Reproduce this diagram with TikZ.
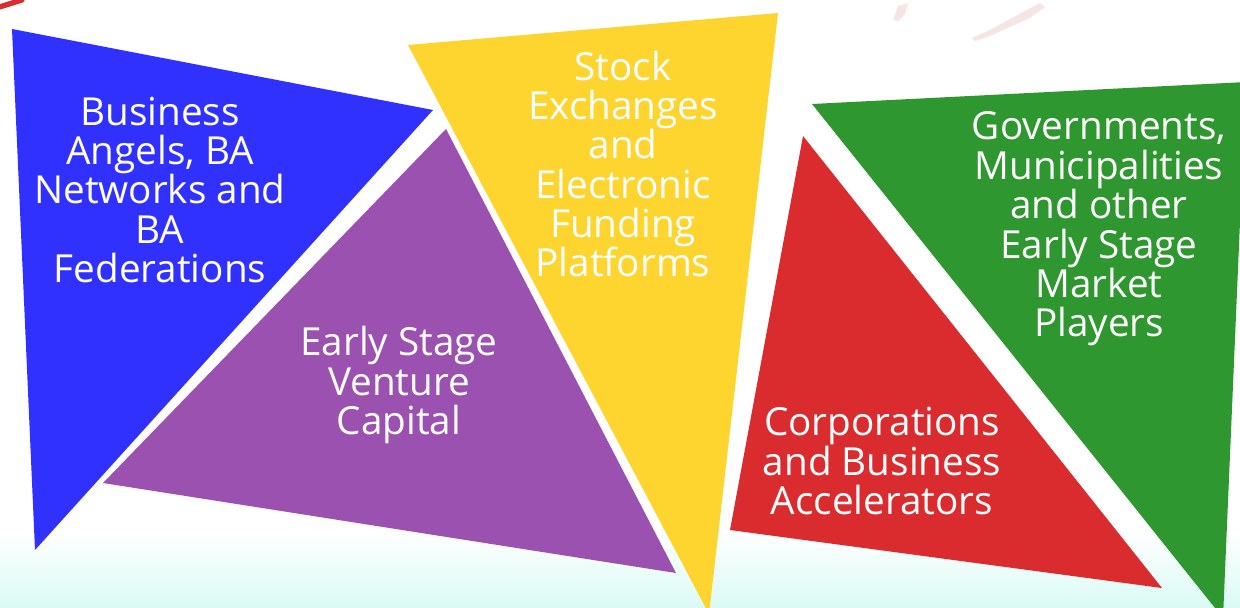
\documentclass[tikz,border=0pt]{standalone}
\usepackage{fontspec}
\setmainfont{Open Sans}
\usetikzlibrary{positioning}

\definecolor{baBlue}{HTML}{3131FF}
\definecolor{vcPurple}{HTML}{9B51B0}
\definecolor{seYellow}{HTML}{FED42E}
\definecolor{acRed}{HTML}{DA2C2F}
\definecolor{goGreen}{HTML}{2E972F}
\definecolor{floorCyan}{HTML}{DAFAF4}
\definecolor{brushPink}{HTML}{F7E4E4}

\begin{document}
\begin{tikzpicture}[x=0.02cm, y=-0.02cm,
  lbl/.style={text=white, align=center, inner sep=0pt,
    font=\fontsize{22}{22.4}\selectfont}]
\useasboundingbox (0,0) rectangle (1240,608);
\clip (0,0) rectangle (1240,608);

% fondo con la franja clara de abajo
\fill[white] (0,0) rectangle (1240,608);
\shade[top color=white, bottom color=floorCyan] (0,530) rectangle (1240,608);

% adornos de la esquina
\draw[acRed, line width=3pt, line cap=round] (-4,8) -- (22,0);
\fill[brushPink] (893,20) -- (898,6) -- (908,3) -- (905,14) -- (898,21) -- cycle;
\fill[brushPink] (972,38) -- (990,30) -- (1010,19) -- (1040,3) -- (1045,7) -- (1030,18) -- (1012,26) -- (990,36) -- (975,41) -- cycle;

% Triangulos de colores
\fill[baBlue] (12,29) -- (433,110) -- (35,550) -- cycle;        % business angels
\fill[vcPurple] (446,129) -- (676,573) -- (103,483) -- cycle;   % venture capital
\fill[seYellow] (408,45) -- (778,13) -- (709,614) -- cycle;     % stock exchanges
\fill[acRed] (803,136) -- (1162,588) -- (730,530) -- cycle;     % corporations
\fill[goGreen] (812,104) -- (1246,82) -- (1223,618) -- cycle;   % governments

% Textos
\node[lbl] (angels) at (160,190) {Business\\Angels, BA\\Networks and\\BA\\Federations};
\node[lbl] (venture) at (399,385) {Early Stage\\Venture\\Capital};
\node[lbl] (stock) at (623,164) {Stock\\Exchanges\\and\\Electronic\\Funding\\Platforms};
\node[lbl] (corp) at (882,461) {Corporations\\and Business\\Accelerators};
\node[lbl] (govs) at (1099,229) {Governments,\\Municipalities\\and other\\Early Stage\\Market\\Players};

\end{tikzpicture}
\end{document}
